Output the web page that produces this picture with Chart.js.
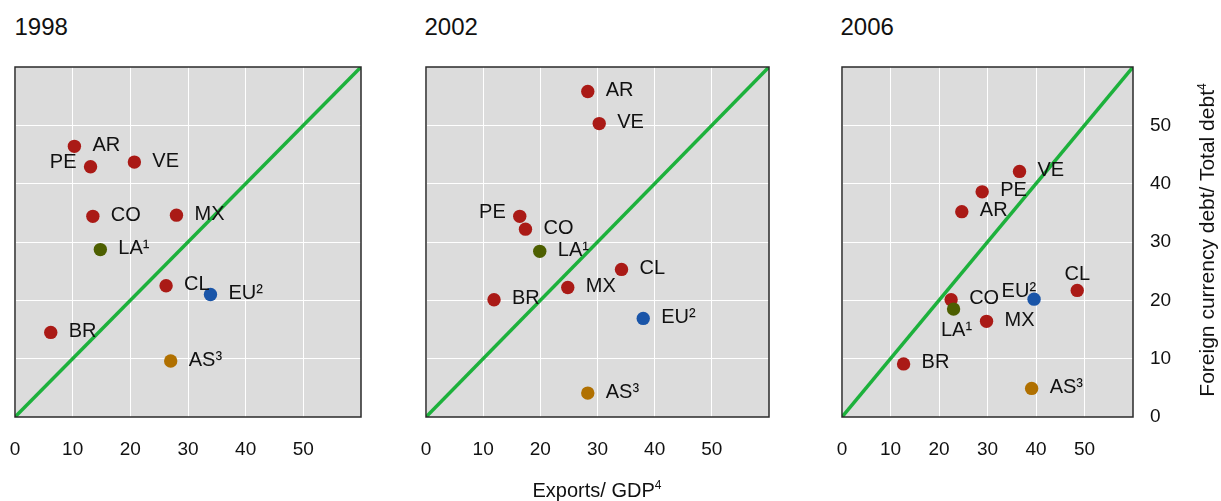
<!DOCTYPE html>
<html>
<head>
<meta charset="utf-8">
<script src="https://cdn.jsdelivr.net/npm/chart.js@4.4.1/dist/chart.umd.min.js"></script>
<style>
    body { margin: 0; background: #fff; }
    #wrap { position: relative; width: 1221px; height: 501px; font-family: "Liberation Sans", Arial, sans-serif; color: #111; }
    canvas { position: absolute; top: 0; }
    .panelTitle { position: absolute; top: 15px; font-size: 24px; line-height: 24px; }
    .axisTitle { position: absolute; font-size: 20px; line-height: 24px; white-space: nowrap; text-align: center; }
    .axisTitle sup { font-size: 12px; vertical-align: 8px; line-height: 0; }
    #yTitle { font-size: 21px; }
</style>
</head>
<body>
<div id="wrap">
    <div class="panelTitle" id="title0" style="left:14.5px"></div>
    <div class="panelTitle" id="title1" style="left:424.5px"></div>
    <div class="panelTitle" id="title2" style="left:840.5px"></div>
    <canvas id="panel1998" style="left:0px"></canvas>
    <canvas id="panel2002" style="left:400px"></canvas>
    <canvas id="panel2006" style="left:810px"></canvas>
    <div class="axisTitle" style="left:477px; top:478px; width:240px">Exports/ GDP<sup>4</sup></div>
    <div class="axisTitle" id="yTitle" style="left:1026.7px; top:228px; width:360px; height:24px; transform:rotate(-90deg)">Foreign currency debt/ Total debt<sup>4</sup></div>
</div>
<script>
const panelTitles = ['1998', '2002', '2006'];
const xTicks = [0, 10, 20, 30, 40, 50];
const yTicks = [0, 10, 20, 30, 40, 50];
const axisMin = 0;
const axisMax = 60;
const diagonalX = [0, 60];
const diagonalY = [0, 60];

// 1998
const countries1998 = ['AR', 'PE', 'VE', 'CO', 'MX', 'LA¹', 'CL', 'EU²', 'BR', 'AS³'];
const exports1998 = [10.3, 13.1, 20.7, 13.5, 28.0, 14.8, 26.2, 33.9, 6.2, 27.0];
const fxDebt1998 = [46.4, 42.9, 43.7, 34.4, 34.6, 28.7, 22.5, 21.0, 14.5, 9.6];

// 2002
const countries2002 = ['AR', 'VE', 'PE', 'CO', 'LA¹', 'CL', 'MX', 'BR', 'EU²', 'AS³'];
const exports2002 = [28.3, 30.3, 16.4, 17.4, 19.9, 34.2, 24.8, 11.9, 38.0, 28.3];
const fxDebt2002 = [55.8, 50.3, 34.4, 32.2, 28.4, 25.3, 22.2, 20.1, 16.9, 4.1];

// 2006
const countries2006 = ['VE', 'PE', 'AR', 'CO', 'LA¹', 'EU²', 'CL', 'MX', 'BR', 'AS³'];
const exports2006 = [36.6, 28.9, 24.7, 22.5, 23.0, 39.6, 48.5, 29.8, 12.7, 39.1];
const fxDebt2006 = [42.1, 38.6, 35.2, 20.1, 18.5, 20.2, 21.7, 16.4, 9.1, 4.9];

const RED = '#aa1a16';
const specialColors = { 'LA¹': '#4d5f00', 'EU²': '#1a55a8', 'AS³': '#b07000' };
const GREEN = '#1db13c';
const FONT = '"Liberation Sans", Arial, sans-serif';

// where the label goes relative to its dot (default: right of it)
const labelPlaces = [
    { 'PE': { dx: -14, dy: -4, align: 'right' } },
    { 'PE': { dx: -14, dy: -4, align: 'right' } },
    {
        'EU²': { dx: 2, dy: -8, align: 'right' },
        'CL': { dx: 0, dy: -16, align: 'center' },
        'LA¹': { dx: 3, dy: 21, align: 'center' }
    }
];

const plotFrame = {
    id: 'plotFrame',
    beforeDraw(chart) {
        const a = chart.chartArea;
        const ctx = chart.ctx;
        ctx.save();
        ctx.fillStyle = '#dcdcdc';
        ctx.fillRect(a.left, a.top, a.right - a.left, a.bottom - a.top);
        ctx.restore();
    },
    afterDraw(chart) {
        const a = chart.chartArea;
        const ctx = chart.ctx;
        ctx.save();
        ctx.strokeStyle = '#2a2a2a';
        ctx.lineWidth = 1.5;
        ctx.strokeRect(a.left, a.top, a.right - a.left, a.bottom - a.top);
        ctx.restore();
    }
};

const pointLabels = {
    id: 'pointLabels',
    afterDatasetsDraw(chart, args, opts) {
        const ctx = chart.ctx;
        const meta = chart.getDatasetMeta(0);
        const names = chart.data.datasets[0].names;
        ctx.save();
        ctx.font = '20px ' + FONT;
        ctx.fillStyle = '#111';
        ctx.textBaseline = 'middle';
        meta.data.forEach(function (pt, i) {
            const p = opts.places[names[i]] || { dx: 18, dy: -1, align: 'left' };
            ctx.textAlign = p.align;
            ctx.fillText(names[i], pt.x + p.dx, pt.y + p.dy);
        });
        ctx.restore();
    }
};

function setTicks(values) {
    return function (scale) {
        scale.ticks = values.map(v => ({ value: v }));
    };
}

function drawPanel(canvasId, countries, xs, ys, places, width, padLeft, padRight, showY) {
    const canvas = document.getElementById(canvasId);
    canvas.width = width;
    canvas.height = 501;
    canvas.style.width = width + 'px';
    canvas.style.height = '501px';

    const points = xs.map((x, i) => ({ x: x, y: ys[i] }));
    const colors = countries.map(c => specialColors[c] || RED);
    const diag = diagonalX.map((x, i) => ({ x: x, y: diagonalY[i] }));

    new Chart(canvas, {
        type: 'scatter',
        data: {
            datasets: [
                {
                    data: points,
                    names: countries,
                    backgroundColor: colors,
                    borderWidth: 0,
                    pointRadius: 6.7,
                    pointHoverRadius: 6.7
                },
                {
                    type: 'line',
                    data: diag,
                    borderColor: GREEN,
                    borderWidth: 3.5,
                    pointRadius: 0,
                    fill: false
                }
            ]
        },
        options: {
            responsive: false,
            animation: false,
            events: [],
            layout: { padding: { left: padLeft, right: padRight, top: 67, bottom: 0 } },
            plugins: {
                legend: { display: false },
                tooltip: { enabled: false },
                pointLabels: { places: places }
            },
            scales: {
                x: {
                    type: 'linear',
                    min: axisMin,
                    max: axisMax,
                    afterBuildTicks: setTicks(xTicks),
                    afterFit: s => { s.height = 84; },
                    border: { display: false },
                    // invisible tick marks push the labels down without widening the side padding
                    grid: { color: '#ffffff', lineWidth: 1, drawTicks: true, tickLength: 21, tickColor: 'rgba(0,0,0,0)' },
                    ticks: { color: '#111', padding: 0, font: { family: FONT, size: 19 } }
                },
                y: {
                    type: 'linear',
                    position: 'right',
                    min: axisMin,
                    max: axisMax,
                    afterBuildTicks: setTicks(yTicks),
                    afterFit: s => { s.width = showY ? 88 : 0; },
                    border: { display: false },
                    grid: { color: '#ffffff', lineWidth: 1, drawTicks: false },
                    ticks: {
                        display: showY,
                        color: '#111',
                        padding: 17,
                        crossAlign: 'near',
                        font: { family: FONT, size: 19 }
                    }
                }
            }
        },
        plugins: [plotFrame, pointLabels]
    });
}

panelTitles.forEach((t, i) => { document.getElementById('title' + i).textContent = t; });

drawPanel('panel1998', countries1998, exports1998, fxDebt1998, labelPlaces[0], 380, 15, 19, false);
drawPanel('panel2002', countries2002, exports2002, fxDebt2002, labelPlaces[1], 390, 26, 21, false);
drawPanel('panel2006', countries2006, exports2006, fxDebt2006, labelPlaces[2], 411, 32, 0, true);
</script>
</body>
</html>
